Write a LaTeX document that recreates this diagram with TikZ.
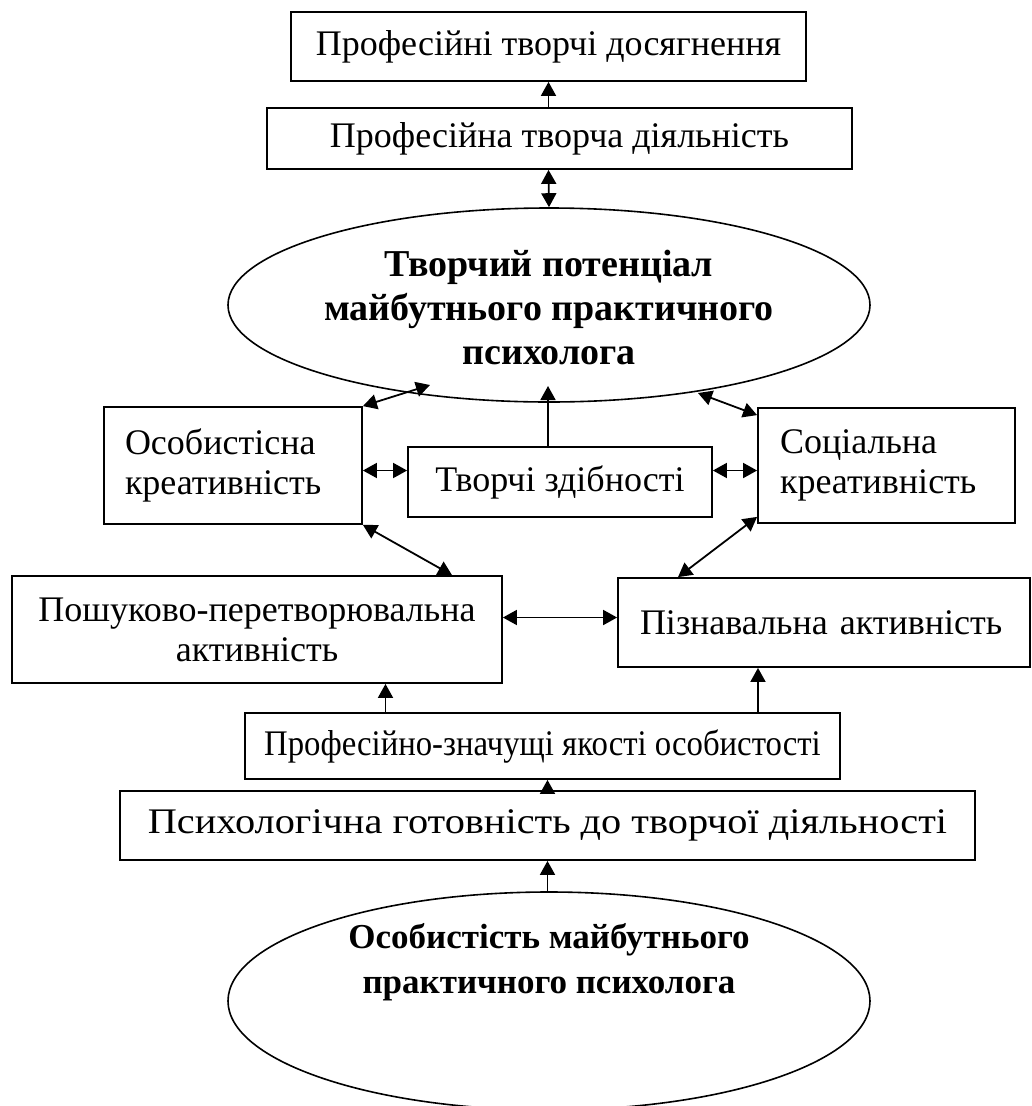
\documentclass[tikz,border=0pt]{standalone}
\usepackage{fontspec}
\setmainfont{Liberation Serif}
\usetikzlibrary{shapes.geometric,arrows.meta}

\begin{document}
\begin{tikzpicture}[x=1pt, y=-1pt, line width=1.8pt,
  every node/.style = {font=\fontsize{36}{40}\selectfont, inner sep=0pt},
  box/.style = {shape=rectangle, draw, align=center},
  oval/.style = {shape=ellipse, draw, line width=1.6pt, minimum width=642pt},
  boldtxt/.style = {font=\fontsize{35}{45}\selectfont\bfseries, align=center},
  arr/.style = {-{Triangle[length=14pt,width=15pt]}},
  darr/.style = {{Triangle[length=14pt,width=15pt]}-{Triangle[length=14pt,width=15pt]}}]
  \useasboundingbox (0,0) rectangle (1032,1106);

  \node[box, minimum width=515pt, minimum height=69pt] (dosyag) at (548.5,46.5) {Професійні творчі досягнення};
  \node[box, minimum width=585pt, minimum height=61pt] (diyal) at (559.5,138.5) {Професійна творча діяльність};
  \node[oval, minimum height=194pt] (potent) at (549,305) {};
  \node[boldtxt, font=\fontsize{38}{44}\selectfont\bfseries] (potenttxt) at (549,307) {Творчий потенціал\\майбутнього практичного\\психолога};
  \node[box, minimum width=258pt, minimum height=117pt, text width=216pt, align=left] (osob) at (233,465.5) {Особистісна\\креативність};
  \node[box, minimum width=304pt, minimum height=70pt] (zdib) at (560,482) {Творчі здібності};
  \node[box, minimum width=257pt, minimum height=115pt, text width=213pt, align=left] (socz) at (886.5,465.5) {Соціальна\\креативність};
  \node[box, minimum width=490pt, minimum height=107pt] (poshuk) at (257,629.5) {Пошуково-перетворювальна\\активність};
  \node[box, minimum width=412pt, minimum height=89pt, text width=368pt, align=left] (piznav) at (824,622.5) {Пізнавальна активність};
  \node[box, minimum width=595pt, minimum height=66pt] (yakost) at (542.5,746) {\scalebox{0.91}[1]{Професійно-значущі якості особистості}};
  \node[box, minimum width=855pt, minimum height=69pt] (gotov) at (547.5,825.5) {\scalebox{1.12}[1]{Психологічна готовність до творчої діяльності}};
  \node[oval, minimum height=218pt] (osobist) at (549,1001) {};
  \node[boldtxt] (osobisttxt) at (549,962) {Особистість майбутнього\\практичного психолога};

  % points on the upper oval
  \coordinate (pL) at (430,385);
  \coordinate (pC) at (548,386);
  \coordinate (pR) at (698,393);
  \coordinate (osE) at ([yshift=-5pt]osob.east);
  \coordinate (scW) at ([yshift=-5pt]socz.west);
  \coordinate (pzW) at ([yshift=5pt]piznav.west);
  \coordinate (pkS) at ([xshift=-157pt]yakost.north);
  \coordinate (pzS) at ([xshift=-66pt]piznav.south);

  \draw[arr] (dosyag.south |- diyal.north) -- (dosyag.south);
  \draw[darr] (dosyag.south |- diyal.south) -- (potent.north);
  \draw[darr] (osob.north east) -- (pL);
  \draw[arr] (pC |- zdib.north) -- (pC);
  \draw[darr] (pR) -- ([yshift=-8pt]socz.north west);
  \draw[darr] (osE) -- (osE -| zdib.west);
  \draw[darr] (scW -| zdib.east) -- (scW);
  \draw[darr] (osob.south east) -- ([xshift=195pt]poshuk.north);
  \draw[darr] ([yshift=7pt]socz.south west) -- ([xshift=-146pt]piznav.north);
  \draw[darr] (pzW -| poshuk.east) -- (pzW);
  \draw[arr] (pkS) -- (pkS |- poshuk.south);
  \draw[arr] (pzS |- yakost.north) -- (pzS);
  \draw[arr] (gotov.north) -- (gotov.north |- yakost.south);
  \draw[arr] (gotov.south |- osobist.north) -- (gotov.south);
\end{tikzpicture}
\end{document}
